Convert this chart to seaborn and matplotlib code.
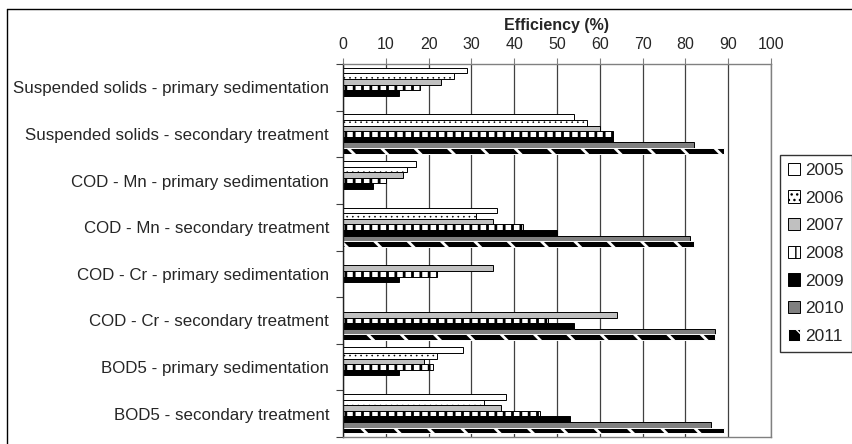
import numpy as np
import pandas as pd
import matplotlib
matplotlib.use("Agg")
import matplotlib.pyplot as plt
from matplotlib.patches import Patch
from matplotlib.lines import Line2D
import seaborn as sns

categories = [
    "Suspended solids - primary sedimentation",
    "Suspended solids - secondary treatment",
    "COD - Mn - primary sedimentation",
    "COD - Mn - secondary treatment",
    "COD - Cr - primary sedimentation",
    "COD - Cr - secondary treatment",
    "BOD5 - primary sedimentation",
    "BOD5 - secondary treatment",
]
years = ["2005", "2006", "2007", "2008", "2009", "2010", "2011"]
nan = np.nan
v2005 = [29, 54, 17, 36, nan, nan, 28, 38]
v2006 = [26, 57, 15, 31, nan, nan, 22, 33]
v2007 = [23, 60, 14, 35, 35, 64, 19, 37]
v2008 = [18, 63, 10, 42, 22, 48, 21, 46]
v2009 = [13, 63, 7, 50, 13, 54, 13, 53]
v2010 = [nan, 82, nan, 81, nan, 87, nan, 86]
v2011 = [nan, 89, nan, 82, nan, 87, nan, 89]
series = [v2005, v2006, v2007, v2008, v2009, v2010, v2011]
xticks = [0, 10, 20, 30, 40, 50, 60, 70, 80, 90, 100]

rows = []
for y, vals in zip(years, series):
    for c, v in zip(categories, vals):
        if not np.isnan(v):
            rows.append({"category": c, "year": y, "value": v})
df = pd.DataFrame(rows)

sns.set_style("white")
plt.rcParams["font.family"] = ["Liberation Sans", "DejaVu Sans"]

# style per year: facecolor, hatch, hatch colour
styles = {
    "2005": ("white", None, "black"),
    "2006": ("white", "...", "black"),
    "2007": ("#c0c0c0", None, "black"),
    "2008": ("white", "||", "black"),
    "2009": ("black", None, "black"),
    "2010": ("#808080", None, "black"),
    "2011": ("black", "\\", "white"),
}

W, H = 853, 444
fig = plt.figure(figsize=(W / 100, H / 100), dpi=100)
ax = fig.add_axes([343 / W, 1 - 437 / H, (771 - 343) / W, (437 - 64) / H])

sns.barplot(data=df, y="category", x="value", hue="year", order=categories,
            hue_order=years, orient="h", width=0.84, gap=0, ax=ax,
            palette=["white"] * 7, legend=False, errorbar=None, saturation=1)

def style_patch(p, fc, hatch, hc):
    p.set_facecolor(fc)
    p.set_edgecolor("black")
    p.set_linewidth(0.7)
    if hatch:
        p.set_hatch(hatch)
        if hasattr(p, "set_hatchcolor"):
            p.set_hatchcolor(hc)
        elif hc != "black":
            p.set_edgecolor(hc)
        if hasattr(p, "set_hatch_linewidth"):
            p.set_hatch_linewidth(2.0 if "." not in hatch else 0.4)

for cont, yr in zip(ax.containers, years):
    fc, hatch, hc = styles[yr]
    for p in cont:
        style_patch(p, fc, hatch, hc)

ax.set_xlim(0, 100)
ax.set_xticks(xticks)
ax.xaxis.tick_top()
ax.xaxis.set_label_position("top")
ax.set_xlabel("Efficiency (%)", fontsize=11.5, fontweight="bold", labelpad=5)
ax.set_ylabel("")
ax.tick_params(axis="x", which="major", top=True, bottom=False, length=4,
               width=0.8, color="#808080", labelsize=11.5, pad=5, direction="out")
ax.set_yticks(range(len(categories)))
ax.set_yticklabels(categories)
ax.set_yticks([i - 0.5 for i in range(len(categories) + 1)], minor=True)
ax.tick_params(axis="y", which="major", left=False, length=0, labelsize=12.2, pad=10)
ax.tick_params(axis="y", which="minor", left=True, length=5, width=0.8,
               color="#404040", direction="out")
ax.grid(axis="x", color="#404040", linewidth=0.9)
ax.grid(axis="y", visible=False)
ax.set_axisbelow(True)
for side in ["top", "right", "bottom"]:
    ax.spines[side].set_color("#808080")
    ax.spines[side].set_linewidth(1.0)
ax.spines["left"].set_color("#202020")
ax.spines["left"].set_linewidth(1.0)

handles = []
for yr in years:
    fc, hatch, hc = styles[yr]
    h = Patch(facecolor=fc, edgecolor="black", linewidth=0.7, label=yr)
    style_patch(h, fc, hatch, hc)
    handles.append(h)
leg = fig.legend(handles=handles, labels=years, loc="upper left",
                 bbox_to_anchor=(780 / W, 1 - 155 / H), bbox_transform=fig.transFigure,
                 borderaxespad=0, fontsize=12.5, frameon=True, fancybox=False,
                 handlelength=0.7, handleheight=0.7, handletextpad=0.3,
                 labelspacing=0.72, borderpad=0.45)
leg.get_frame().set_edgecolor("black")
leg.get_frame().set_linewidth(1.0)

# chart-area border (top and left visible)
fig.add_artist(Line2D([7 / W, 1.0], [1 - 9 / H, 1 - 9 / H], color="black",
                      linewidth=1.0, transform=fig.transFigure))
fig.add_artist(Line2D([7 / W, 7 / W], [0, 1 - 9 / H], color="black",
                      linewidth=1.0, transform=fig.transFigure))

fig.savefig("out.png", dpi=100)
